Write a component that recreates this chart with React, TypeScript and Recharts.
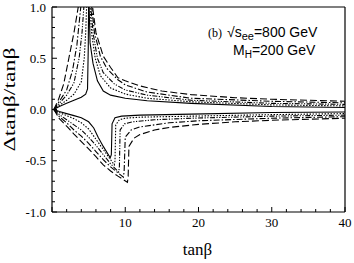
import { LineChart, Line, XAxis, YAxis } from 'recharts'

// [tanβ, Δtanβ/tanβ]; upper band peaks near tanβ≈5, lower band dips at 8–10.5
const solidUpper = [[0.25, 0], [1, 0.03], [2, 0.06], [3, 0.09], [4, 0.12], [4.6, 0.15], [4.85, 0.2], [4.95, 0.6], [5.0, 1.05], [5.05, 1.05], [5.2, 0.65], [5.6, 0.45], [6.2, 0.28], [7, 0.18], [8, 0.14], [10, 0.11], [13, 0.085], [19, 0.06], [30, 0.03], [40, 0.02]]
const dottedUpper = [[0.25, 0], [1, 0.04], [2, 0.09], [3, 0.15], [4, 0.27], [4.4, 0.5], [4.6, 0.75], [4.75, 1.05], [5.15, 1.05], [5.4, 0.75], [5.9, 0.5], [6.6, 0.33], [8, 0.21], [10, 0.15], [13, 0.11], [19, 0.075], [30, 0.045], [40, 0.035]]
const dashDotDotUpper = [[0.25, 0], [1, 0.06], [2, 0.14], [3, 0.26], [3.7, 0.5], [4.1, 0.75], [4.4, 1.05], [5.25, 1.05], [5.6, 0.75], [6.2, 0.5], [7, 0.36], [8.5, 0.25], [10, 0.19], [13, 0.14], [19, 0.09], [30, 0.06], [40, 0.05]]
const dashDotUpper = [[0.25, 0], [1, 0.08], [2, 0.19], [2.8, 0.38], [3.4, 0.63], [4.0, 1.05], [5.35, 1.05], [5.8, 0.75], [6.6, 0.52], [7.5, 0.4], [9, 0.29], [10, 0.24], [13, 0.17], [19, 0.11], [30, 0.08], [40, 0.065]]
const dashedUpper = [[0.25, 0], [0.9, 0.1], [1.6, 0.25], [2.3, 0.5], [3.0, 0.75], [3.7, 1.05], [5.45, 1.05], [6, 0.75], [7, 0.52], [8, 0.41], [9, 0.31], [10, 0.28], [12, 0.23], [15, 0.18], [19, 0.145], [25, 0.115], [30, 0.1], [40, 0.08]]

const solidLower = [[0.25, 0], [1, -0.02], [2, -0.04], [3, -0.06], [4, -0.08], [5, -0.12], [5.7, -0.18], [6.3, -0.27], [7, -0.36], [7.95, -0.47], [8.1, -0.44], [8.2, -0.14], [8.6, -0.08], [9.5, -0.065], [12, -0.055], [19, -0.045], [30, -0.03], [40, -0.025]]
const dottedLower = [[0.25, 0], [1, -0.03], [2, -0.06], [3, -0.09], [4, -0.13], [5, -0.19], [6, -0.29], [7, -0.39], [8.5, -0.54], [8.6, -0.5], [8.7, -0.15], [9.2, -0.1], [10, -0.085], [12, -0.075], [19, -0.065], [30, -0.05], [40, -0.04]]
const dashDotDotLower = [[0.25, 0], [1, -0.05], [2, -0.1], [3, -0.15], [4, -0.2], [5, -0.27], [6, -0.35], [7, -0.44], [8, -0.53], [9.1, -0.61], [9.2, -0.56], [9.3, -0.2], [9.9, -0.14], [11, -0.12], [14, -0.1], [19, -0.085], [30, -0.065], [40, -0.055]]
const dashDotLower = [[0.25, 0], [1, -0.07], [2, -0.13], [3, -0.2], [4, -0.26], [5, -0.33], [6, -0.41], [7, -0.49], [8, -0.56], [9.75, -0.66], [9.85, -0.6], [10, -0.27], [10.8, -0.2], [12, -0.17], [16, -0.13], [20, -0.11], [30, -0.085], [40, -0.07]]
const dashedLower = [[0.25, 0], [1, -0.09], [2.1, -0.17], [3, -0.24], [4.8, -0.37], [6, -0.46], [7, -0.54], [8, -0.6], [9, -0.65], [10.3, -0.71], [10.4, -0.65], [10.5, -0.36], [11.2, -0.28], [12, -0.245], [14, -0.2], [16, -0.175], [20, -0.145], [25, -0.12], [30, -0.105], [40, -0.085]]

const xTicks = [0, 2, 4, 6, 8, 10, 12, 14, 16, 18, 20, 22, 24, 26, 28, 30, 32, 34, 36, 38, 40]
const xLabels = [10, 20, 30, 40]
const yTicks = [-1, -0.9, -0.8, -0.7, -0.6, -0.5, -0.4, -0.3, -0.2, -0.1, 0, 0.1, 0.2, 0.3, 0.4, 0.5, 0.6, 0.7, 0.8, 0.9, 1]
const yLabels = [-1, -0.5, 0, 0.5, 1]

const toPoints = (arr: number[][]) => arr.map(([x, y]) => ({ x, y }))

const series = [
  { key: 'solid-up', data: solidUpper, dash: undefined },
  { key: 'dot-up', data: dottedUpper, dash: '1.5 1.5' },
  { key: 'ddd-up', data: dashDotDotUpper, dash: '5 1.5 1.2 1.5 1.2 1.5' },
  { key: 'dd-up', data: dashDotUpper, dash: '6 2 1.5 2' },
  { key: 'dash-up', data: dashedUpper, dash: '7 3' },
  { key: 'solid-lo', data: solidLower, dash: undefined },
  { key: 'dot-lo', data: dottedLower, dash: '1.5 1.5' },
  { key: 'ddd-lo', data: dashDotDotLower, dash: '5 1.5 1.2 1.5 1.2 1.5' },
  { key: 'dd-lo', data: dashDotLower, dash: '6 2 1.5 2' },
  { key: 'dash-lo', data: dashedLower, dash: '7 3' },
]

const serif = 'Liberation Serif, Times New Roman, serif'
const sans = 'Liberation Sans, Arial, sans-serif'

const isYMajor = (v: number) => yLabels.some(l => Math.abs(l - v) < 1e-6)
const isXMajor = (v: number) => xLabels.includes(v) || v === 0

// ticks point inward on all four sides
const LeftTick = ({ x, y, payload }: any) => {
  const major = isYMajor(payload.value)
  return (
    <g>
      <line x1={x} y1={y} x2={x + (major ? 5 : 3)} y2={y} stroke="#000" />
      {major && (
        <text x={x - 6} y={y + 4.5} textAnchor="end" fontFamily={serif} fontSize={13} fill="#000">
          {payload.value.toFixed(1)}
        </text>
      )}
    </g>
  )
}

const RightTick = ({ x, y, payload }: any) => {
  const major = isYMajor(payload.value)
  return <line x1={x} y1={y} x2={x - (major ? 5 : 3)} y2={y} stroke="#000" />
}

const BottomTick = ({ x, y, payload }: any) => {
  const major = isXMajor(payload.value)
  return (
    <g>
      <line x1={x} y1={y} x2={x} y2={y - (major ? 5 : 3)} stroke="#000" />
      {xLabels.includes(payload.value) && (
        <text x={x} y={y + 15} textAnchor="middle" fontFamily={serif} fontSize={13} fill="#000">
          {payload.value}
        </text>
      )}
    </g>
  )
}

const TopTick = ({ x, y, payload }: any) => {
  const major = isXMajor(payload.value)
  return <line x1={x} y1={y} x2={x} y2={y + (major ? 5 : 3)} stroke="#000" />
}

const YTitle = ({ viewBox }: any) => {
  const cx = viewBox.x + 15
  const cy = viewBox.y + viewBox.height / 2 - 10
  return (
    <text x={cx} y={cy} transform={`rotate(-90 ${cx} ${cy})`} textAnchor="middle"
      fontFamily={serif} fontSize={16} fill="#000" textLength={104} lengthAdjust="spacingAndGlyphs">
      Δtanβ/tanβ
    </text>
  )
}

const XTitle = ({ viewBox }: any) => (
  <text x={viewBox.x + viewBox.width / 2 - 1} y={viewBox.y + 43} textAnchor="middle"
    fontFamily={serif} fontSize={17} fill="#000">
    tanβ
  </text>
)

export default function App() {
  return (
    <div style={{ position: 'absolute', left: 0, top: 0, width: 354, height: 263, background: '#fff' }}>
      <LineChart width={354} height={263} margin={{ top: 6, right: 8, bottom: 0, left: 0 }}>
        <XAxis xAxisId={0} dataKey="x" type="number" domain={[0, 40]} ticks={xTicks} interval={0}
          allowDataOverflow height={51} tickSize={0} tickMargin={0} tickLine={false}
          axisLine={{ stroke: '#000', strokeWidth: 1.2 }} tick={BottomTick} label={{ content: XTitle }} />
        <XAxis xAxisId="top" orientation="top" dataKey="x" type="number" domain={[0, 40]} ticks={xTicks}
          interval={0} height={1} tickSize={0} tickMargin={0} tickLine={false}
          axisLine={{ stroke: '#000', strokeWidth: 1.2 }} tick={TopTick} />
        <YAxis yAxisId={0} type="number" domain={[-1, 1]} ticks={yTicks} interval={0} allowDataOverflow
          width={52} tickSize={0} tickMargin={0} tickLine={false}
          axisLine={{ stroke: '#000', strokeWidth: 1.2 }} tick={LeftTick} label={{ content: YTitle }} />
        <YAxis yAxisId="right" orientation="right" type="number" domain={[-1, 1]} ticks={yTicks} interval={0}
          width={1} tickSize={0} tickMargin={0} tickLine={false}
          axisLine={{ stroke: '#000', strokeWidth: 1.2 }} tick={RightTick} />
        {series.map(s => (
          <Line key={s.key} data={toPoints(s.data)} dataKey="y" type="linear" stroke="#000"
            strokeWidth={1.1} strokeDasharray={s.dash} dot={false} activeDot={false}
            isAnimationActive={false} />
        ))}
      </LineChart>
      <svg width={354} height={263} style={{ position: 'absolute', left: 0, top: 0, pointerEvents: 'none' }}>
        <text x={208} y={37} fontFamily={serif} fontSize={12} fill="#000">(b)</text>
        <text x={227} y={37} fontFamily={sans} fontSize={14} fill="#000">
          √s<tspan fontSize={11} dy={3}>ee</tspan><tspan dy={-3}>=800 GeV</tspan>
        </text>
        <text x={233} y={55} fontFamily={sans} fontSize={14} fill="#000">
          M<tspan fontSize={10} dy={3}>H</tspan><tspan dy={-3}>=200 GeV</tspan>
        </text>
      </svg>
    </div>
  )
}
